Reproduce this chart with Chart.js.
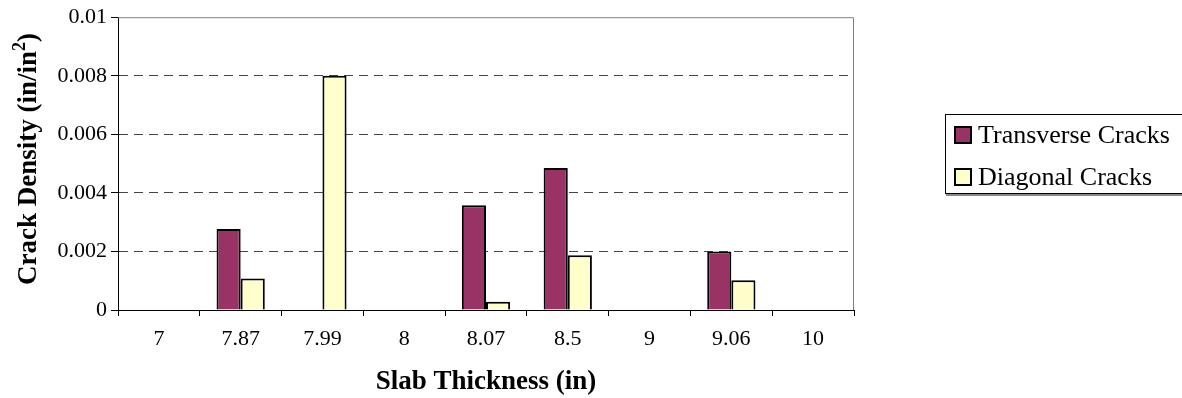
<!DOCTYPE html>
<html>
<head>
<meta charset="utf-8">
<script src="https://cdn.jsdelivr.net/npm/chart.js@4"></script>
<style>
  html, body { margin: 0; padding: 0; background: #fff; }
  #wrap { position: relative; width: 1182px; height: 398px; }
  #legend {
    position: absolute; left: 945px; top: 114px; width: 245px; height: 78px;
    border: 1px solid #000; border-right: none; box-shadow: 1px 2px 0 #888;
    font-family: "Liberation Serif", "Times New Roman", serif; font-size: 26px;
    background: #fff;
  }
  .item { position: absolute; left: 8px; display: flex; align-items: center; line-height: 30px; }
  .sw { width: 14px; height: 14px; border: 2px solid #000; margin-right: 6px; }
</style>
</head>
<body>
<div id="wrap">
  <canvas id="chart" width="1182" height="398"></canvas>
  <div id="legend"></div>
</div>
<script>
// Dữ liệu biểu đồ
const categories = ["7", "7.87", "7.99", "8", "8.07", "8.5", "9", "9.06", "10"]
const transverseCracks = [0, 0.00277, 0, 0, 0.00358, 0.00485, 0, 0.002, 0]
const diagonalCracks = [0, 0.00108, 0.008, 0, 0.00028, 0.00187, 0, 0.00102, 0]
const yTicks = [0, 0.002, 0.004, 0.006, 0.008, 0.01]

const seriesNames = ["Transverse Cracks", "Diagonal Cracks"]
const seriesColors = ["#993366", "#FFFFCC"]
const serif = "'Liberation Serif', 'Times New Roman', serif"

// Khung vùng vẽ (viền trên và phải màu xám) + tiêu đề trục Y có chỉ số trên
const frame = {
  id: "frame",
  afterDraw(chart) {
    const { ctx, chartArea: a } = chart
    ctx.save()
    ctx.strokeStyle = "#808080"
    ctx.lineWidth = 1
    ctx.beginPath()
    ctx.moveTo(a.left, a.top + 0.5)
    ctx.lineTo(a.right - 0.5, a.top + 0.5)
    ctx.lineTo(a.right - 0.5, a.bottom)
    ctx.stroke()

    // Tiêu đề trục Y
    const main = "Crack Density (in/in"
    const sup = "2"
    const tail = ")"
    const big = "bold 27px " + serif
    const small = "bold 18px " + serif
    ctx.font = big
    const w1 = ctx.measureText(main).width
    const w3 = ctx.measureText(tail).width
    ctx.font = small
    const w2 = ctx.measureText(sup).width
    const total = w1 + w2 + w3
    ctx.translate(29, 159)
    ctx.rotate(-Math.PI / 2)
    ctx.fillStyle = "#000"
    ctx.textBaseline = "middle"
    ctx.textAlign = "left"
    let x = -total / 2
    ctx.font = big
    ctx.fillText(main, x, 0)
    x += w1
    ctx.font = small
    ctx.fillText(sup, x, -9)
    x += w2
    ctx.font = big
    ctx.fillText(tail, x, 0)
    ctx.restore()
  },
}

const chart = new Chart(document.getElementById("chart"), {
  type: "bar",
  data: {
    labels: categories,
    datasets: [
      {
        label: seriesNames[0],
        data: transverseCracks,
        backgroundColor: seriesColors[0],
        borderColor: "#000",
        borderWidth: 2,
        categoryPercentage: 0.59,
        barPercentage: 1,
      },
      {
        label: seriesNames[1],
        data: diagonalCracks,
        backgroundColor: seriesColors[1],
        borderColor: "#000",
        borderWidth: 2,
        categoryPercentage: 0.59,
        barPercentage: 1,
      },
    ],
  },
  options: {
    responsive: false,
    animation: false,
    layout: { padding: { top: 17, right: 328, left: 0, bottom: 0 } },
    plugins: { legend: { display: false }, tooltip: { enabled: false } },
    scales: {
      x: {
        offset: true,
        grid: { offset: true, drawOnChartArea: false, tickLength: 6, tickColor: "#000", tickWidth: 1 },
        border: { color: "#000", width: 1 },
        ticks: { color: "#000", font: { family: serif, size: 22 }, padding: 10, maxRotation: 0 },
        title: {
          display: true,
          text: "Slab Thickness (in)",
          color: "#000",
          font: { family: serif, size: 27, weight: "bold" },
          padding: { top: 4, bottom: 0 },
        },
        afterFit: (scale) => { scale.height = 88 },
      },
      y: {
        min: 0,
        max: 0.01,
        afterBuildTicks: (scale) => { scale.ticks = yTicks.map((v) => ({ value: v })) },
        grid: {
          color: (c) => (c.tick && (c.tick.value === 0 || c.tick.value === 0.01) ? "rgba(0,0,0,0)" : "#444"),
          tickColor: "#000",
          tickLength: 7,
          lineWidth: 1,
        },
        border: { color: "#000", width: 1, dash: [9, 6] },
        ticks: {
          color: "#000",
          font: { family: serif, size: 22 },
          padding: 4,
          callback: (v) => String(v),
        },
        afterFit: (scale) => { scale.width = 118 },
      },
    },
  },
  plugins: [frame],
})

// Chú thích
const legend = document.getElementById("legend")
seriesNames.forEach((name, i) => {
  const item = document.createElement("div")
  item.className = "item"
  item.style.top = i === 0 ? "5px" : "47px"
  item.innerHTML = `<span class="sw" style="background:${seriesColors[i]}"></span><span>${name}</span>`
  legend.appendChild(item)
})
</script>
</body>
</html>
